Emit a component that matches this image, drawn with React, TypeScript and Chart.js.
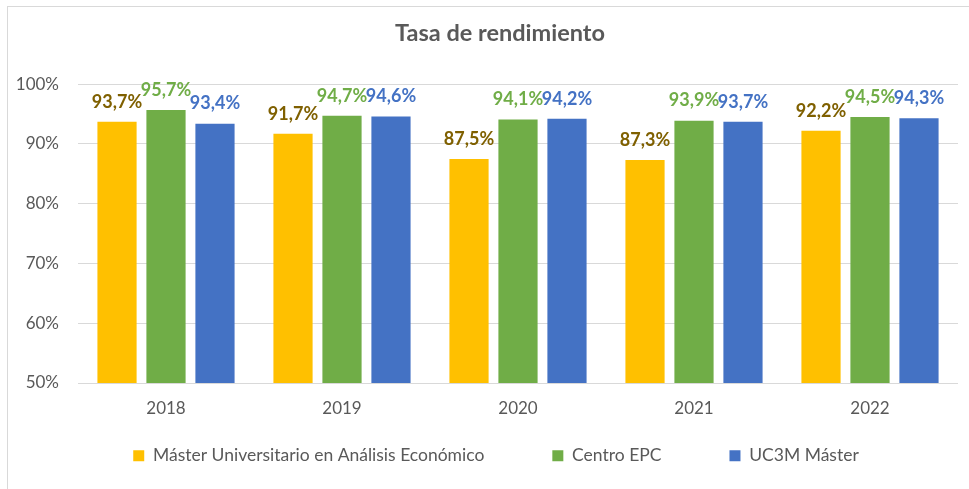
import React, { useEffect, useRef } from "react";
import { Chart, registerables } from "chart.js";

Chart.register(...registerables);

const years = ["2018", "2019", "2020", "2021", "2022"];
const seriesNames = [
  "Máster Universitario en Análisis Económico",
  "Centro EPC",
  "UC3M Máster",
];
const masterValues = [93.7, 91.7, 87.5, 87.3, 92.2];
const centroValues = [95.7, 94.7, 94.1, 93.9, 94.5];
const uc3mValues = [93.4, 94.6, 94.2, 93.7, 94.3];
const yTicks = [50, 60, 70, 80, 90, 100];

const barColors = ["#FFC000", "#70AD47", "#4472C4"];
const labelColors = ["#7F6000", "#70AD47", "#4472C4"];
const FONT = "Lato, 'Open Sans', sans-serif";
const TEXT = "#595959";
const GRID = "#D9D9D9";

const valueLabels = {
  id: "valueLabels",
  afterDatasetsDraw(chart: any) {
    const ctx = chart.ctx;
    chart.data.datasets.forEach((ds: any, i: number) => {
      const meta = chart.getDatasetMeta(i);
      meta.data.forEach((bar: any, j: number) => {
        const v = ds.data[j] as number;
        ctx.save();
        ctx.font = `bold 18px ${FONT}`;
        ctx.fillStyle = labelColors[i];
        ctx.textAlign = "center";
        ctx.textBaseline = "middle";
        ctx.fillText(v.toFixed(1).replace(".", ",") + "%", bar.x, bar.y - 20);
        ctx.restore();
      });
    });
  },
};

const LEGEND_CENTER_Y = 456;
const LEGEND_DX = 17;
const TITLE_DX = 21;
const boxShift = {
  id: "boxShift",
  afterLayout(chart: any) {
    const lg = chart.legend;
    if (lg) {
      const p = lg.options.labels.padding;
      const target = LEGEND_CENTER_Y - 9 - p;
      lg.top = target;
      lg.bottom = chart.height;
      lg.height = chart.height - target;
      lg.left += LEGEND_DX;
      lg.right += LEGEND_DX;
    }
    const tb = chart.titleBlock;
    if (tb) {
      tb.left += TITLE_DX;
      tb.right += TITLE_DX;
    }
  },
};

export default function App() {
  const ref = useRef<HTMLCanvasElement | null>(null);

  useEffect(() => {
    if (!ref.current) return;
    const chart = new Chart(ref.current, {
      type: "bar",
      data: {
        labels: years,
        datasets: [masterValues, centroValues, uc3mValues].map((d, i) => ({
          label: seriesNames[i],
          data: d,
          backgroundColor: barColors[i],
          borderWidth: 0,
          categoryPercentage: 0.835,
          barPercentage: 0.8,
        })),
      },
      options: {
        responsive: false,
        animation: false,
        layout: { padding: { left: 0, right: 11, top: 0, bottom: 0 } },
        scales: {
          x: {
            grid: { display: false, drawTicks: false },
            border: { display: false },
            ticks: {
              color: TEXT,
              font: { family: FONT, size: 17 },
              padding: 15,
            },
            afterFit(scale: any) {
              scale.height = 76;
            },
          },
          y: {
            min: 50,
            max: 100,
            afterBuildTicks(scale: any) {
              scale.ticks = yTicks.map((v) => ({ value: v }));
            },
            grid: { color: GRID, lineWidth: 1, drawTicks: false },
            border: { display: false },
            ticks: {
              color: TEXT,
              font: { family: FONT, size: 17 },
              padding: 19,
              callback: (v: any) => v + "%",
            },
            afterFit(scale: any) {
              scale.width = 78;
            },
          },
        },
        plugins: {
          title: {
            display: true,
            text: "Tasa de rendimiento",
            color: TEXT,
            font: { family: FONT, size: 23.5, weight: "bold", lineHeight: 1.2 },
            padding: { top: 19, bottom: 37 },
          },
          legend: {
            position: "bottom",
            maxHeight: 30,
            labels: {
              boxWidth: 11,
              boxHeight: 11,
              padding: 68,
              color: TEXT,
              font: { family: FONT, size: 17.5 },
            },
          },
          tooltip: { enabled: false },
        },
      },
      plugins: [valueLabels, boxShift],
    });
    return () => chart.destroy();
  }, []);

  return (
    <div
      style={{
        position: "absolute",
        left: 0,
        top: 0,
        width: 969,
        height: 489,
        overflow: "hidden",
        background: "#fff",
      }}
    >
      <div
        style={{
          position: "absolute",
          left: 7,
          top: 6,
          width: 1000,
          height: 600,
          borderTop: "1px solid #D9D9D9",
          borderLeft: "1px solid #D9D9D9",
        }}
      />
      <canvas
        ref={ref}
        width={969}
        height={489}
        style={{ position: "absolute", left: 0, top: 0, width: 969, height: 489 }}
      />
    </div>
  );
}
